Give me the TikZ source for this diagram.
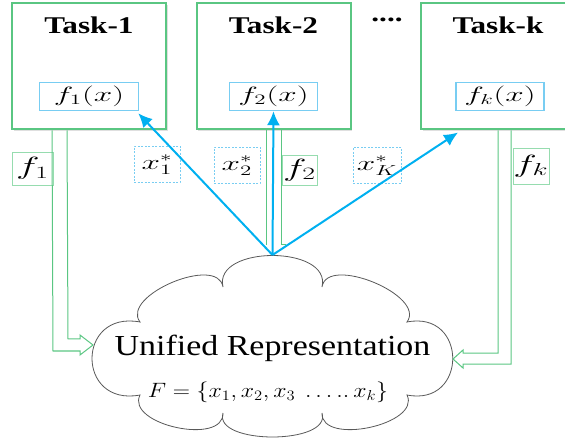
\documentclass[tikz,border=0pt]{standalone}
\usepackage{fontspec}
\setmainfont{Liberation Serif}
\newfontfamily\taskfont[FakeStretch=1.3]{Liberation Serif}
\newfontfamily\cloudfont[FakeStretch=1.17]{Liberation Serif}
\usepackage{graphicx}
\usepackage{tikz}
\usetikzlibrary{shapes,arrows.meta,shadows}
\definecolor{taskgreen}{RGB}{90,198,130}
\definecolor{labelgreen}{RGB}{150,220,175}
\definecolor{funcblue}{RGB}{120,205,242}
\definecolor{arrowblue}{RGB}{0,176,240}
\newcommand{\widen}[1]{\scalebox{1.6}[1]{#1}}
\tikzstyle{task} = [rectangle, draw=taskgreen, line width=2pt, fill=white,
    minimum width=154pt, minimum height=126pt,
    drop shadow={opacity=0.25, shadow xshift=1.5pt, shadow yshift=-1.5pt}]
\tikzstyle{tasktitle} = [inner sep=0pt, font=\taskfont\bfseries\fontsize{24}{28}\selectfont]
\tikzstyle{func} = [rectangle, draw=funcblue, line width=1.5pt, fill=white,
    minimum height=28pt, inner sep=0pt, font=\fontsize{22}{24}\selectfont]
\tikzstyle{flabel} = [rectangle, draw=labelgreen, line width=0.8pt, inner sep=0pt,
    font=\fontsize{25}{27}\selectfont]
\tikzstyle{xlabel} = [rectangle, draw=funcblue, line width=1pt, dash pattern=on 2pt off 1.5pt,
    inner sep=0pt, minimum width=46pt, minimum height=36pt, font=\fontsize{21}{23}\selectfont]
\tikzstyle{arrow} = [draw=arrowblue, line width=2pt, -{Latex[length=14pt,width=13pt]}]
\tikzstyle{hollow} = [draw=taskgreen, line width=1pt]
\tikzstyle{cloudline} = [draw=black!65, line width=0.8pt, fill=white]

\begin{document}
\begin{tikzpicture}[x=1pt, y=1pt]
	\useasboundingbox (0,0) rectangle (565,-438);
	% Place nodes
	\node [task] (task1) at (89,-66.5) {};
	\node [task, right of=task1, node distance=184.5pt] (task2) {};
	\node [task, right of=task2, node distance=224.5pt] (taskk) {};
	\node [tasktitle] at ([yshift=-23pt]task1.north) (title1) {Task-1};
	\node [tasktitle] at ([yshift=-23pt]task2.north) (title2) {Task-2};
	\node [tasktitle] at ([yshift=-23pt]taskk.north) (titlek) {Task-k};
	\node [font=\taskfont\bfseries\fontsize{24}{28}\selectfont, inner sep=0pt] (dots) at (387,-20) {....};
	\node [func, minimum width=99pt, below of=task1, node distance=30pt] (func1) {\widen{$f_1(x)$}};
	\node [func, minimum width=88pt, below of=task2, node distance=30pt] (func2) {\widen{$f_2(x)$}};
	\node [func, minimum width=88pt, below of=taskk, node distance=30pt, xshift=2pt] (funck) {\widen{$f_k(x)$}};

	% cloud
	\draw [cloudline] (223,-287) .. controls (213,-245) and (332,-245) .. (322,-287)
		.. controls (326.8,-254.4) and (426.6,-295.4) .. (407,-322)
		.. controls (468,-310) and (468,-407) .. (407,-395)
		.. controls (421.4,-424.6) and (320.8,-446) .. (322,-413)
		.. controls (332,-445) and (213,-445) .. (223,-413)
		.. controls (224,-446) and (125.4,-424.6) .. (140,-395)
		.. controls (76,-407) and (76,-310) .. (140,-322)
		.. controls (120.2,-295.6) and (218,-254.4) .. cycle;
	\node [font=\cloudfont\fontsize{29}{32}\selectfont] (unified) at (272.5,-348) {Unified Representation};
	\node [font=\fontsize{20}{22}\selectfont] (setF) at (268,-392)
		{\scalebox{1.15}[1]{$F=\{x_1,x_2,x_3\ \dots..\,x_k\}$}};

	\node [flabel, minimum width=41pt, minimum height=33pt] (lab1) at (32.5,-168.5) {\widen{$f_1$}};
	\node [flabel, minimum width=35pt, minimum height=30pt] (lab2) at (299.5,-170) {\widen{$f_2$}};
	\node [flabel, minimum width=36pt, minimum height=36pt] (labk) at (531,-166) {\widen{$f_k$}};
	\node [xlabel] (x1) at (157,-164.5) {\widen{$x_1^*$}};
	\node [xlabel] (x2) at (237,-165.5) {\widen{$x_2^*$}};
	\node [xlabel, minimum width=48pt] (xk) at (377,-165.5) {\widen{$x_K^*$}};

	% hollow green arrows
	\coordinate (tip1) at (93,-345);
	\coordinate (tipk) at (453,-359);
	\draw [hollow] ([xshift=56pt]task1.south west) -- (68,-339) -- (80,-339) -- (80,-335) -- (tip1)
		-- (80,-355) -- (80,-351) -- (53,-351) -- ([xshift=41pt]task1.south west);
	\draw [hollow] ([xshift=-7.5pt]task2.south) -- (266,-245);
	\draw [hollow] ([xshift=7.5pt]task2.south) -- (281,-245) -- (286,-245);
	\draw [hollow] ([xshift=78pt]taskk.south west) -- (498,-353) -- (463,-353) -- (463,-350) -- (tipk)
		-- (463,-368) -- (463,-364) -- (511,-364) -- ([xshift=91pt]taskk.south west);

	% blue arrows
	\coordinate (hub) at (272.5,-255);
	\path [arrow] (hub) -- ([xshift=-1pt, yshift=-2pt]func1.south east);
	\path [arrow] (hub) -- (func2.south);
	\path [arrow] (hub) -- ([xshift=38pt, yshift=-2pt]taskk.south west);
\end{tikzpicture}
\end{document}
